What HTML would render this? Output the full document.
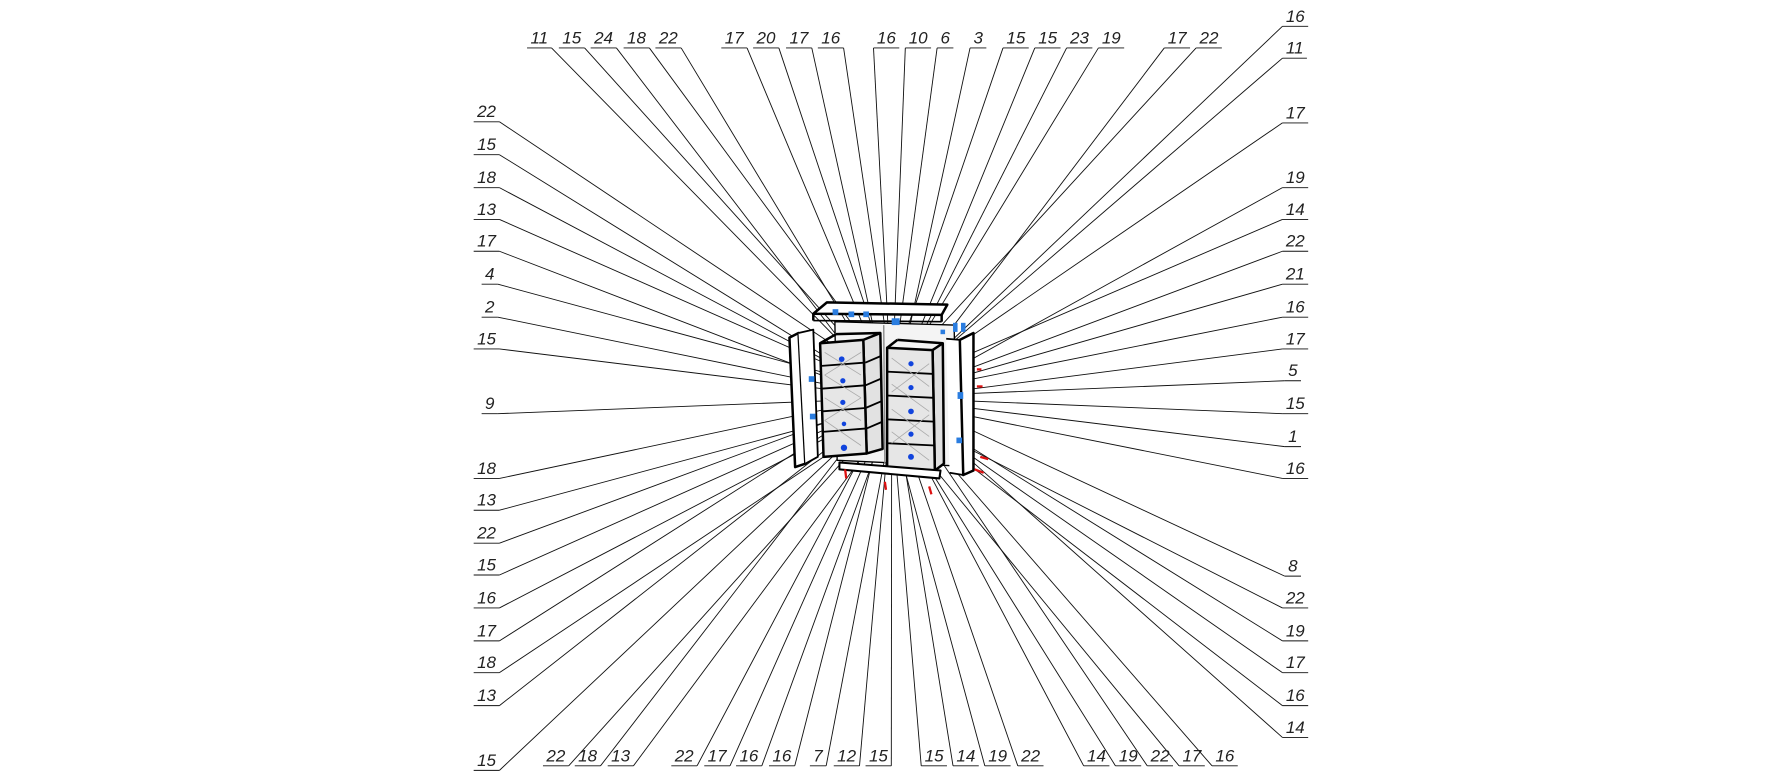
<!DOCTYPE html>
<html><head><meta charset="utf-8"><style>
html,body{margin:0;padding:0;background:#fff;width:1772px;height:774px;overflow:hidden}
svg{display:block}
text.lb{font-family:"Liberation Sans",sans-serif;font-style:italic;font-size:15px;fill:#222}
</style></head><body>
<svg id="s" width="1772" height="774" viewBox="0 0 1560 681" xmlns="http://www.w3.org/2000/svg">
<g id="leaders" stroke="#111" stroke-width="0.8" fill="none"></g>
<g id="cab" stroke="#000" stroke-width="2.2" stroke-linejoin="round">
 <polygon points="728,266 834,268 829,277 716,276" fill="#fff"/>
 <line x1="716" y1="276" x2="716" y2="282"/><line x1="829" y1="277" x2="829" y2="283"/>
 <line x1="716" y1="282" x2="829" y2="283" stroke-width="1.5"/>
 <polygon points="735,283 840,286 842,410 737,405" fill="#f4f4f4" stroke-width="1.2"/>
 <line x1="778" y1="286" x2="779" y2="408" stroke="#888" stroke-width="1.2"/>
 <polygon points="695,297 703,293 709,408 700,411" fill="#fff"/>
 <polyline points="703,293 716,290 720,402 709,408" fill="#fff" stroke-width="1.6"/>
 <polygon points="760,299 775,293 777,395 763,399" fill="#e2e2e2"/>
 <polygon points="722,302 760,299 763,399 725,402" fill="#e6e6e6"/>
 <line x1="722" y1="302" x2="736" y2="294" /><line x1="736" y1="294" x2="775" y2="293"/>
 <g stroke-width="1.6">
 <line x1="722" y1="322" x2="762" y2="319"/><line x1="723" y1="342" x2="762" y2="339"/>
 <line x1="723" y1="362" x2="762" y2="359"/><line x1="724" y1="380" x2="763" y2="377"/>
 <line x1="762" y1="319" x2="776" y2="313"/><line x1="762" y1="339" x2="776" y2="333"/>
 <line x1="762" y1="359" x2="776" y2="353"/><line x1="763" y1="377" x2="777" y2="371"/>
 </g>
 <polygon points="821,308 830,302 831,408 823,414" fill="#e0e0e0"/>
 <polygon points="781,306 821,308 823,414 781,411" fill="#e6e6e6"/>
 <line x1="781" y1="306" x2="790" y2="299"/><line x1="790" y1="299" x2="830" y2="302"/>
 <g stroke-width="1.6">
 <line x1="781" y1="327" x2="822" y2="329"/><line x1="781" y1="348" x2="822" y2="350"/>
 <line x1="781" y1="369" x2="822" y2="371"/><line x1="781" y1="390" x2="823" y2="392"/>
 </g>
 <polyline points="833,298 845,299 848,418 836,416" fill="#fff" stroke-width="1.6"/>
 <polygon points="845,299 857,293 857,414 848,418" fill="#fff"/>
 <polygon points="739,407 828,414 827,421 739,413" fill="#fff" stroke-width="1.8"/>
</g>
<g id="hatch" stroke="#aaa" stroke-width="0.7">
 <line x1="726" y1="310" x2="758" y2="330"/><line x1="726" y1="330" x2="758" y2="350"/>
 <line x1="726" y1="350" x2="758" y2="370"/><line x1="726" y1="370" x2="758" y2="392"/>
 <line x1="785" y1="315" x2="818" y2="340"/><line x1="785" y1="338" x2="818" y2="362"/>
 <line x1="785" y1="360" x2="818" y2="384"/><line x1="785" y1="380" x2="818" y2="405"/>
 <line x1="758" y1="310" x2="726" y2="330"/><line x1="758" y1="350" x2="726" y2="370"/>
 <line x1="818" y1="320" x2="785" y2="345"/><line x1="818" y1="365" x2="785" y2="390"/>
</g>
<g fill="#1144dd">
 <circle cx="741" cy="316" r="2.5"/><circle cx="742" cy="335" r="2.3"/><circle cx="742" cy="354" r="2.3"/>
 <circle cx="743" cy="373" r="2"/><circle cx="743" cy="394" r="2.8"/>
 <circle cx="802" cy="320" r="2.3"/><circle cx="802" cy="341" r="2.3"/><circle cx="802" cy="362" r="2.5"/>
 <circle cx="802" cy="382" r="2.3"/><circle cx="802" cy="402" r="2.6"/>
</g>
<g fill="#2a7de0">
 <rect x="733" y="272" width="5" height="5"/><rect x="747" y="274" width="5" height="5"/><rect x="760" y="274" width="5" height="5"/>
 <rect x="785" y="280" width="7" height="6"/><rect x="839" y="284" width="4" height="8"/><rect x="846" y="284" width="4" height="8"/>
 <rect x="828" y="290" width="4" height="4"/><rect x="712" y="331" width="5" height="5"/><rect x="713" y="364" width="5" height="5"/>
 <rect x="843" y="345" width="5" height="6"/><rect x="842" y="385" width="5" height="5"/>
</g>
<g stroke="#dd1111" stroke-width="2">
 <line x1="860" y1="325" x2="864" y2="325"/><line x1="860" y1="340" x2="865" y2="340"/>
 <line x1="863" y1="402" x2="870" y2="404"/><line x1="858" y1="413" x2="866" y2="416"/>
 <line x1="744" y1="413" x2="745" y2="421"/><line x1="779" y1="424" x2="780" y2="431"/><line x1="818" y1="428" x2="820" y2="435"/>
</g>

<g id="labels">
<text class="lb" x="467" y="38">11</text><text class="lb" x="495" y="38">15</text><text class="lb" x="523" y="38">24</text>
<text class="lb" x="552" y="38">18</text><text class="lb" x="580" y="38">22</text><text class="lb" x="638" y="38">17</text>
<text class="lb" x="666" y="38">20</text><text class="lb" x="695" y="38">17</text><text class="lb" x="723" y="38">16</text>
<text class="lb" x="772" y="38">16</text><text class="lb" x="800" y="38">10</text><text class="lb" x="828" y="38">6</text>
<text class="lb" x="857" y="38">3</text><text class="lb" x="886" y="38">15</text><text class="lb" x="914" y="38">15</text>
<text class="lb" x="942" y="38">23</text><text class="lb" x="970" y="38">19</text><text class="lb" x="1028" y="38">17</text>
<text class="lb" x="1056" y="38">22</text>
<text class="lb" x="1132" y="19">16</text><text class="lb" x="1132" y="47">11</text><text class="lb" x="1132" y="104">17</text>
<text class="lb" x="1132" y="161">19</text><text class="lb" x="1132" y="189">14</text><text class="lb" x="1132" y="217">22</text>
<text class="lb" x="1132" y="246">21</text><text class="lb" x="1132" y="275">16</text><text class="lb" x="1132" y="303">17</text>
<text class="lb" x="1134" y="331">5</text><text class="lb" x="1132" y="360">15</text><text class="lb" x="1134" y="389">1</text>
<text class="lb" x="1132" y="417">16</text><text class="lb" x="1134" y="503">8</text><text class="lb" x="1132" y="531">22</text>
<text class="lb" x="1132" y="560">19</text><text class="lb" x="1132" y="588">17</text><text class="lb" x="1132" y="617">16</text>
<text class="lb" x="1132" y="645">14</text>
<text class="lb" x="420" y="103">22</text><text class="lb" x="420" y="132">15</text><text class="lb" x="420" y="161">18</text>
<text class="lb" x="420" y="189">13</text><text class="lb" x="420" y="217">17</text><text class="lb" x="427" y="246">4</text>
<text class="lb" x="427" y="275">2</text><text class="lb" x="420" y="303">15</text><text class="lb" x="427" y="360">9</text>
<text class="lb" x="420" y="417">18</text><text class="lb" x="420" y="445">13</text><text class="lb" x="420" y="474">22</text>
<text class="lb" x="420" y="502">15</text><text class="lb" x="420" y="531">16</text><text class="lb" x="420" y="560">17</text>
<text class="lb" x="420" y="588">18</text><text class="lb" x="420" y="617">13</text><text class="lb" x="420" y="674">15</text>
<text class="lb" x="481" y="670">22</text><text class="lb" x="509" y="670">18</text><text class="lb" x="538" y="670">13</text>
<text class="lb" x="594" y="670">22</text><text class="lb" x="623" y="670">17</text><text class="lb" x="651" y="670">16</text>
<text class="lb" x="680" y="670">16</text><text class="lb" x="716" y="670">7</text><text class="lb" x="737" y="670">12</text>
<text class="lb" x="765" y="670">15</text><text class="lb" x="814" y="670">15</text><text class="lb" x="842" y="670">14</text>
<text class="lb" x="870" y="670">19</text><text class="lb" x="899" y="670">22</text><text class="lb" x="957" y="670">14</text>
<text class="lb" x="985" y="670">19</text><text class="lb" x="1013" y="670">22</text><text class="lb" x="1041" y="670">17</text>
<text class="lb" x="1070" y="670">16</text>
</g>
</svg>
<script>
(function(){
var NS="http://www.w3.org/2000/svg",g=document.getElementById("leaders");
var cx=785,cy=350,rx=45,ry=50;
var ts=document.querySelectorAll("text.lb");
function L(a,b,c,d){var l=document.createElementNS(NS,"line");l.setAttribute("x1",a);l.setAttribute("y1",b);l.setAttribute("x2",c);l.setAttribute("y2",d);g.appendChild(l);}
for(var i=0;i<ts.length;i++){
 var t=ts[i],x=+t.getAttribute("x"),y=+t.getAttribute("y"),w=t.getComputedTextLength();
 var x0=x-3,x1=x+w+3,uy=y+4;
 L(x0,uy,x1,uy);
 var sx=(Math.abs(x0-cx)<Math.abs(x1-cx))?x0:x1;
 if(y<50&&x<1100){sx=(x+w/2<775)?x1:x0;}
 if(y>650){sx=(x+w/2<795)?x1:x0;}
 var dx=sx-cx,dy=uy-cy,a=Math.atan2(dy,dx);
 var ex=cx+rx*Math.cos(a)*(0.75+0.4*((i*7)%5)/4),ey=cy+ry*Math.sin(a)*(0.75+0.4*((i*3)%5)/4);
 L(sx,uy,ex,ey);
}
})();
</script>
</body></html>
